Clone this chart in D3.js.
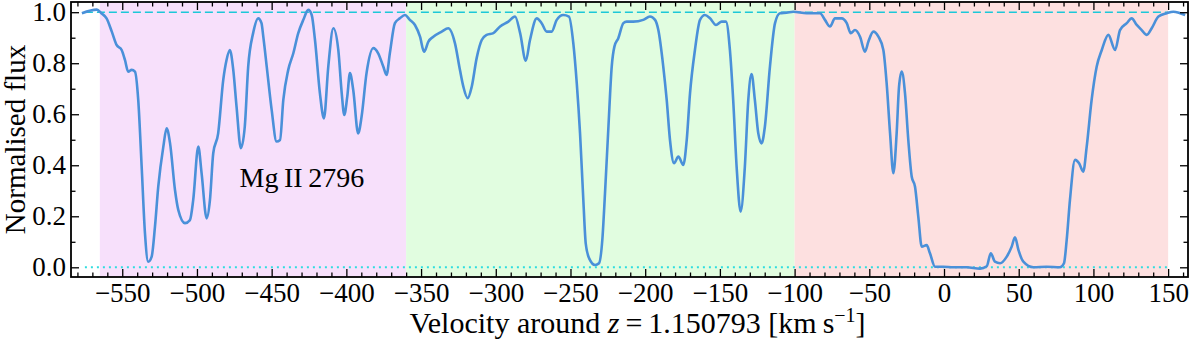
<!DOCTYPE html>
<html>
<head>
<meta charset="utf-8">
<script src="https://cdn.jsdelivr.net/npm/d3@7"></script>
<style>
  body { margin: 0; background: #fff; }
  svg text { font-family: "Liberation Serif", "DejaVu Serif", serif; fill: #000; }
</style>
</head>
<body>
<svg id="chart" width="1200" height="344" font-family="Liberation Serif, serif"></svg>
<script>
// velocity (km/s) and normalised flux
const velocity = [
  -577, -567, -564, -560.5, -557, -553.8, -550.4, -548.2, -546, -543.7, -541.5, -539.3, -537, -534.8,
  -532.6, -530.3, -528.1, -525.9, -522.5, -520.3, -518, -514.7, -512.5, -508, -504.7, -502.5, -499.1,
  -496.9, -493.5, -491.3, -489.1, -485.8, -482.4, -480.2, -478, -475.7, -473.5, -470.6, -468, -465.7,
  -462.4, -459, -456.8, -455.6, -453.3, -450, -446.7, -444.4, -442.2, -438.9, -435.5, -432.2, -428.8,
  -425.5, -423.2, -421, -417.7, -415, -412.1, -408.7, -405.4, -403.1, -401.4, -399.4, -397.6, -395.4,
  -392.1, -389.8, -386.5, -382, -378.7, -375.3, -373.1, -370.9, -367.5, -364.2, -360.8, -357.5, -354.1,
  -350.7, -348, -345.1, -341.8, -336.2, -331.8, -327.3, -324, -321.7, -318.8, -316.1, -312.8, -309.4,
  -306.1, -301.6, -297.1, -291.6, -287.1, -283.7, -279.9, -277.1, -272.6, -269.3, -265.9, -262.6, -259.2,
  -254.8, -251, -248.1, -245.8, -243.6, -241.4, -239.8, -237.5, -233.5, -230.9, -228.7, -226.9, -224.6,
  -222.4, -220.6, -218, -214.6, -212.4, -208, -201.3, -196.8, -193.4, -191.2, -187.9, -185.6, -183.4,
  -180.7, -177.8, -174.5, -172.2, -170, -166.7, -163.3, -160, -156.6, -152.6, -148.8, -146, -143.3,
  -141.1, -138.8, -136.1, -133.3, -131, -128.8, -126.6, -124.3, -122.1, -119.9, -116.5, -113.1, -109.8,
  -105.3, -100.9, -91.9, -83, -79.7, -76.3, -73, -68.5, -65.1, -62.4, -59.6, -56.2, -52.9, -50.6, -47.3,
  -43.9, -40.6, -38.4, -36.1, -33.9, -31.7, -30.1, -28.3, -26.1, -23.9, -21.6, -19.4, -17.2, -14.9,
  -11.6, -9.4, -6, -0.5, 6.2, 15.2, 24.1, 28.6, 31.3, 34.1, 37.5, 42, 45.3, 47.5, 49.8, 53.1, 59.8,
  68.7, 77.6, 80.3, 82.1, 84.3, 87.7, 90.4, 93.2, 95.5, 98.8, 102.2, 105.6, 110, 114.5, 117.8, 122.3,
  125.6, 129, 132.3, 135.7, 139, 143.5, 149.1, 153.5, 158, 161.4
];
const flux = [
  0.996, 1.01, 0.996, 0.976, 0.924, 0.872, 0.852, 0.813, 0.767, 0.774, 0.767, 0.656, 0.394, 0.134,
  0.022, 0.042, 0.159, 0.316, 0.473, 0.545, 0.486, 0.303, 0.225, 0.173, 0.185, 0.264, 0.473,
  0.369, 0.192, 0.264, 0.447, 0.525, 0.735, 0.813, 0.852, 0.774, 0.630, 0.467, 0.551, 0.787,
  0.918, 0.976, 0.957, 0.904, 0.787, 0.617, 0.493, 0.499, 0.656, 0.774, 0.839, 0.918, 0.970,
  1.009, 0.989, 0.891, 0.682, 0.584, 0.787, 0.937, 0.852, 0.682, 0.597, 0.669, 0.761, 0.695,
  0.525, 0.591, 0.761, 0.859, 0.839, 0.787, 0.754, 0.839, 0.957, 0.976, 0.989, 0.970, 0.950,
  0.904, 0.845, 0.885, 0.904, 0.924, 0.937, 0.878, 0.774, 0.708, 0.663, 0.708, 0.820, 0.891,
  0.911, 0.918, 0.944, 0.963, 0.983, 0.918, 0.810, 0.891, 0.976, 0.957, 0.924, 0.924, 0.970,
  0.989, 0.983, 0.878, 0.722, 0.525, 0.264, 0.094, 0.035, 0.009, 0.016, 0.107, 0.290, 0.551,
  0.787, 0.865, 0.898, 0.957, 0.963, 0.963, 0.970, 0.983, 0.970, 0.930, 0.787, 0.656, 0.499,
  0.408, 0.434, 0.401, 0.499, 0.682, 0.852, 0.970, 0.989, 0.976, 0.950, 0.963, 0.963, 0.852,
  0.656, 0.394, 0.218, 0.394, 0.656, 0.758, 0.656, 0.525, 0.486, 0.551, 0.787, 0.957, 0.996,
  0.998, 1.002, 0.996, 0.996, 0.970, 0.944, 0.976, 0.976, 0.957, 0.918, 0.930, 0.904, 0.845, 0.885, 0.924,
  0.904, 0.852, 0.722, 0.525, 0.369, 0.525, 0.708, 0.767, 0.682, 0.499, 0.355, 0.316, 0.198, 0.081,
  0.087, 0.055, 0.002, 0.002, 0.0, 0.0, -0.005, 0.004, 0.055, 0.022, 0.016, 0.042, 0.081, 0.118, 0.068, 0.022, 0.0,
  0.002, 0.0, 0.016, 0.107, 0.264, 0.421, 0.408, 0.375, 0.473, 0.656, 0.787, 0.852, 0.911, 0.852, 0.930, 0.957,
  0.976, 0.950, 0.930, 0.911, 0.937, 0.983, 0.996, 1.002, 0.996, 0.989
];

// velocity ranges of the three shaded components
const regionStart = [-565, -360, -100];
const regionEnd = [-360, -100, 150];
const regionColor = ["#f7e0fb", "#e1fde0", "#fde0e0"];

const xMajor = [-550, -500, -450, -400, -350, -300, -250, -200, -150, -100, -50, 0, 50, 100, 150];
const yMajor = [0.0, 0.2, 0.4, 0.6, 0.8, 1.0];

const lineLabel = "Mg\u2009II\u20092796";

const serif = "'Liberation Serif', 'DejaVu Serif', serif";

const margin = { top: 2, right: 12, bottom: 67, left: 71 },
    width = 1200 - margin.left - margin.right,
    height = 344 - margin.top - margin.bottom;

const x = d3.scaleLinear().domain([-584.3, 163.3]).range([0, width]);
const y = d3.scaleLinear().domain([-0.038, 1.04]).range([height, 0]);

const svg = d3.select("#chart")
  .append("g")
  .attr("transform", "translate(" + margin.left + "," + margin.top + ")");

// shaded velocity components
svg.selectAll("rect.region")
  .data(regionStart)
  .enter().append("rect")
  .attr("class", "region")
  .attr("x", d => x(d))
  .attr("width", (d, i) => x(regionEnd[i]) - x(d))
  .attr("y", 0)
  .attr("height", height)
  .attr("fill", (d, i) => regionColor[i]);

// continuum and zero level
svg.append("line")
  .attr("x1", x(-575)).attr("x2", x(150))
  .attr("y1", y(1)).attr("y2", y(1))
  .attr("stroke", "#1cc8d8").attr("stroke-width", 1.5)
  .attr("stroke-dasharray", "8,4");

svg.append("line")
  .attr("x1", x(-575)).attr("x2", x(150))
  .attr("y1", y(0)).attr("y2", y(0))
  .attr("stroke", "#2fdde0").attr("stroke-width", 2)
  .attr("stroke-dasharray", "2,4");

// spectrum
const points = velocity.map((v, i) => ({ x: v, y: flux[i] }));
const line = d3.line().x(d => x(d.x)).y(d => y(d.y)).curve(d3.curveMonotoneX);

svg.append("path")
  .datum(points)
  .attr("fill", "none")
  .attr("stroke", "#4a90d9")
  .attr("stroke-width", 2.6)
  .attr("stroke-linejoin", "round")
  .attr("d", line);

// axes with inward ticks on all sides
const xMinor = d3.range(-580, 161, 10).filter(v => v % 50 !== 0);
const yMinor = [0.1, 0.3, 0.5, 0.7, 0.9];

function styleAxis(g) {
  g.attr("font-family", serif);
  g.select(".domain").remove();
  g.selectAll(".tick line").attr("stroke", "#000").attr("stroke-width", 1.3);
  g.selectAll("text").style("font-family", serif).style("font-size", "27px");
}

svg.append("g")
  .attr("transform", "translate(0," + height + ")")
  .call(d3.axisBottom(x).tickValues(xMajor).tickSize(-8).tickPadding(6).tickFormat(d3.format("d")))
  .call(styleAxis);
svg.append("g")
  .attr("transform", "translate(0," + height + ")")
  .call(d3.axisBottom(x).tickValues(xMinor).tickSize(-4.5).tickFormat(""))
  .call(styleAxis);
svg.append("g")
  .call(d3.axisTop(x).tickValues(xMajor).tickSize(-8).tickFormat(""))
  .call(styleAxis);
svg.append("g")
  .call(d3.axisTop(x).tickValues(xMinor).tickSize(-4.5).tickFormat(""))
  .call(styleAxis);

svg.append("g")
  .call(d3.axisLeft(y).tickValues(yMajor).tickSize(-8).tickPadding(5).tickFormat(d3.format(".1f")))
  .call(styleAxis);
svg.append("g")
  .call(d3.axisLeft(y).tickValues(yMinor).tickSize(-4.5).tickFormat(""))
  .call(styleAxis);
svg.append("g")
  .attr("transform", "translate(" + width + ",0)")
  .call(d3.axisRight(y).tickValues(yMajor).tickSize(-8).tickFormat(""))
  .call(styleAxis);
svg.append("g")
  .attr("transform", "translate(" + width + ",0)")
  .call(d3.axisRight(y).tickValues(yMinor).tickSize(-4.5).tickFormat(""))
  .call(styleAxis);

// frame
svg.append("rect")
  .attr("width", width).attr("height", height)
  .attr("fill", "none").attr("stroke", "#000").attr("stroke-width", 1.8);

// labels
svg.append("text")
  .attr("x", x(-471.5)).attr("y", y(0.316))
  .style("font-family", serif)
  .style("font-size", "28px")
  .text(lineLabel);

const xl = svg.append("text")
  .attr("x", width / 2 + 8).attr("y", height + 56)
  .attr("text-anchor", "middle")
  .style("font-family", serif)
  .style("font-size", "30px");
xl.append("tspan").text("Velocity around ");
xl.append("tspan").style("font-style", "italic").text("z");
xl.append("tspan").text("\u2009=\u20091.150793 [km\u2009s");
xl.append("tspan").attr("dy", -11).style("font-size", "20px").text("\u22121");
xl.append("tspan").attr("dy", 11).text("]");

svg.append("text")
  .attr("transform", "translate(" + (-46) + "," + (height / 2) + ") rotate(-90)")
  .attr("text-anchor", "middle")
  .style("font-family", serif)
  .style("font-size", "29px")
  .text("Normalised flux");
</script>
</body>
</html>
